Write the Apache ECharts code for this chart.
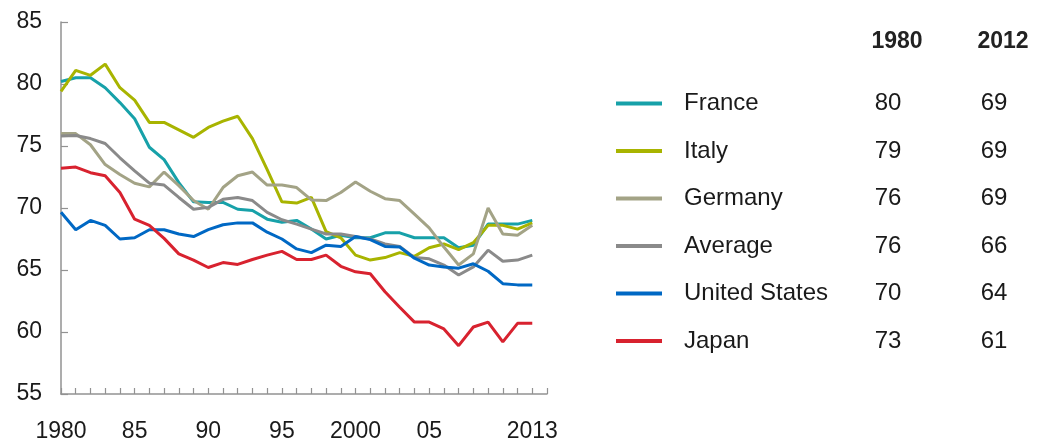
<!DOCTYPE html>
<html>
<head>
<meta charset="utf-8">
<script src="https://cdn.jsdelivr.net/npm/echarts@6/dist/echarts.min.js"></script>
<style>
  html, body { margin: 0; padding: 0; background: #ffffff; }
  #chart { width: 1039px; height: 443px; }
</style>
</head>
<body>
<div id="chart"></div>
<script>
// Years on the horizontal axis (the axis runs one year past the last data point)
const years = [];
for (let y = 1980; y <= 2013; y++) years.push(String(y));

// Tick labels shown under the axis and the years they sit on
const labelYears = ['1980', '1985', '1990', '1995', '2000', '2005', '2012'];
const labelTexts = ['1980', '85', '90', '95', '2000', '05', '2013'];

// Series values, 1980–2012
const france = [80.2, 80.5, 80.5, 79.7, 78.5, 77.2, 74.9, 73.9, 72.05, 70.5, 70.45, 70.45, 69.9, 69.8, 69.1, 68.85, 69.0,
  68.3, 67.5, 67.8, 67.6, 67.6, 68.0, 68.0, 67.6, 67.6, 67.6, 66.8, 67.0, 68.7, 68.7, 68.7, 69.0];
const italy = [79.4, 81.1, 80.7, 81.6, 79.7, 78.7, 76.9, 76.9, 76.3, 75.7, 76.5, 77.0, 77.4, 75.6, 73.1, 70.5, 70.4,
  70.85, 68.1, 67.6, 66.2, 65.8, 66.0, 66.4, 66.1, 66.8, 67.1, 66.65, 67.2, 68.6, 68.6, 68.3, 68.8];
const germany = [76.0, 76.0, 75.1, 73.5, 72.7, 72.0, 71.7, 72.9, 71.8, 70.6, 69.9, 71.65, 72.6, 72.9, 71.85, 71.85, 71.65,
  70.65, 70.6, 71.25, 72.1, 71.35, 70.75, 70.6, 69.5, 68.4, 66.85, 65.4, 66.3, 70.0, 67.9, 67.8, 68.6];
const average = [75.8, 75.85, 75.6, 75.2, 74.05, 73.0, 72.0, 71.85, 70.85, 69.9, 70.05, 70.7, 70.85, 70.6, 69.65, 69.05, 68.7,
  68.3, 67.9, 67.9, 67.7, 67.5, 67.1, 66.9, 66.0, 65.9, 65.4, 64.6, 65.25, 66.6, 65.7, 65.8, 66.2];
const unitedStates = [69.65, 68.25, 69.0, 68.6, 67.5, 67.6, 68.25, 68.25, 67.9, 67.7, 68.25, 68.65, 68.8, 68.8, 68.05, 67.5, 66.7,
  66.4, 67.0, 66.9, 67.7, 67.45, 66.9, 66.85, 65.95, 65.4, 65.25, 65.15, 65.5, 64.9, 63.9, 63.8, 63.8];
const japan = [73.2, 73.3, 72.85, 72.6, 71.25, 69.1, 68.6, 67.55, 66.3, 65.8, 65.2, 65.6, 65.45, 65.85, 66.2, 66.5, 65.85,
  65.85, 66.2, 65.3, 64.85, 64.7, 63.25, 62.0, 60.8, 60.8, 60.25, 58.9, 60.4, 60.8, 59.2, 60.7, 60.7];

const seriesNames = ['France', 'Italy', 'Germany', 'Average', 'United States', 'Japan'];
const seriesValues = [france, italy, germany, average, unitedStates, japan];
const seriesColors = ['#17a1a9', '#a8b400', '#a3a386', '#8a8a8a', '#0068c4', '#d8222f'];

// Table column headings: first and last year of each series
const firstYear = '1980';
const lastYear = '2012';

const textColor = '#1a1a1a';
const axisColor = '#929292';
const fontFamily = '"Liberation Sans", Arial, sans-serif';

const chart = echarts.init(document.getElementById('chart'), null, { renderer: 'canvas' });

// Rounded first / last values shown beside each legend entry
const tableLookup = {};
seriesNames.forEach((n, i) => {
  const vals = seriesValues[i];
  tableLookup[n] = [Math.round(vals[0]), Math.round(vals[vals.length - 1])];
});

chart.setOption({
  animation: false,
  backgroundColor: '#ffffff',
  textStyle: { fontFamily: fontFamily },
  grid: { left: 61, right: 492, top: 22, bottom: 47, containLabel: false },
  xAxis: {
    type: 'category',
    data: years,
    boundaryGap: false,
    axisLine: { lineStyle: { color: axisColor, width: 1.5 } },
    axisTick: { show: true, inside: true, length: 6, interval: 0, lineStyle: { color: axisColor, width: 1.2 } },
    axisLabel: {
      interval: 0,
      margin: 26,
      fontSize: 23,
      color: textColor,
      fontFamily: fontFamily,
      formatter: function (value) {
        const k = labelYears.indexOf(value);
        return k >= 0 ? labelTexts[k] : '';
      }
    },
    splitLine: { show: false }
  },
  yAxis: {
    type: 'value',
    min: 55,
    max: 85,
    interval: 5,
    axisLine: { show: true, lineStyle: { color: axisColor, width: 1.5 } },
    axisTick: { show: true, inside: true, length: 7, lineStyle: { color: axisColor, width: 1.2 } },
    axisLabel: { margin: 19, fontSize: 23, color: textColor, fontFamily: fontFamily, padding: [6, 0, 0, 0] },
    splitLine: { show: false }
  },
  legend: {
    data: seriesNames,
    orient: 'vertical',
    left: 616,
    top: 91.5,
    padding: 0,
    icon: 'rect',
    itemWidth: 46,
    itemHeight: 4,
    itemGap: 23.5,
    selectedMode: false,
    formatter: function (name) {
      const v = tableLookup[name];
      return '{s|}{n|' + name + '}{a|' + v[0] + '}{g|}{b|' + v[1] + '}';
    },
    textStyle: {
      color: textColor,
      fontSize: 24,
      fontFamily: fontFamily,
      lineHeight: 24,
      rich: {
        s: { width: 17, lineHeight: 24 },
        n: { width: 174, fontSize: 24, lineHeight: 24, color: textColor, fontFamily: fontFamily },
        a: { width: 60, align: 'center', fontSize: 24, lineHeight: 24, color: textColor, fontFamily: fontFamily },
        g: { width: 46, lineHeight: 24 },
        b: { width: 60, align: 'center', fontSize: 24, lineHeight: 24, color: textColor, fontFamily: fontFamily }
      }
    }
  },
  graphic: [
    {
      type: 'text',
      style: { text: firstYear, x: 897, y: 42, align: 'center', verticalAlign: 'middle',
        fontSize: 23, fontWeight: 'bold', fill: '#222222', fontFamily: fontFamily }
    },
    {
      type: 'text',
      style: { text: lastYear, x: 1003, y: 42, align: 'center', verticalAlign: 'middle',
        fontSize: 23, fontWeight: 'bold', fill: '#222222', fontFamily: fontFamily }
    }
  ],
  series: seriesNames.map((name, i) => ({
    name: name,
    type: 'line',
    data: seriesValues[i],
    symbol: 'none',
    smooth: false,
    color: seriesColors[i],
    lineStyle: { width: 3, color: seriesColors[i] },
    emphasis: { disabled: true },
    z: 2
  }))
});
</script>
</body>
</html>
